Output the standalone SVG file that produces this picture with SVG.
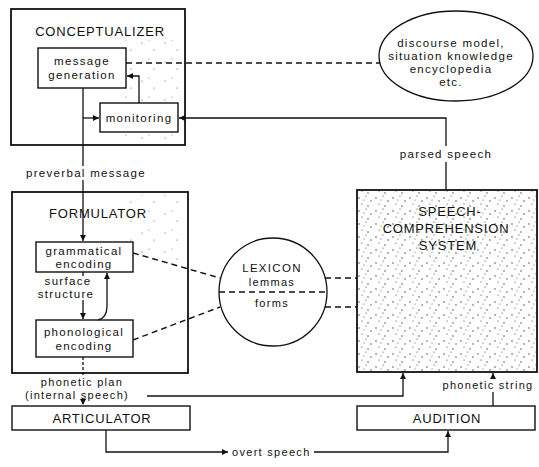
<svg xmlns="http://www.w3.org/2000/svg" width="539" height="467" viewBox="0 0 539 467">
<style>
text{font-family:"Liberation Sans",Arial,sans-serif;fill:#111;text-anchor:middle}
.lb{font-size:11.5px;letter-spacing:1.3px}
.sm{font-size:11px;letter-spacing:1.3px}
.tt{font-size:13px;letter-spacing:0.8px}
.big{fill:none;stroke:#111;stroke-width:1.8}
.box{fill:#fff;stroke:#111;stroke-width:1.4}
.ln{fill:none;stroke:#111;stroke-width:1.3}
.ds{fill:none;stroke:#111;stroke-width:1.4;stroke-dasharray:6 4}
.ar{marker-end:url(#ah)}
</style>
<defs>
<marker id="ah" viewBox="0 0 10 10" refX="10" refY="5" markerWidth="7" markerHeight="6" orient="auto" markerUnits="userSpaceOnUse"><path d="M0,0 L10,5 L0,10 z" fill="#111"/></marker>
<pattern id="dots" width="17" height="13" patternUnits="userSpaceOnUse">
<circle cx="2" cy="3" r="0.7" fill="#333"/><circle cx="9" cy="1" r="0.6" fill="#333"/><circle cx="14" cy="6" r="0.7" fill="#333"/><circle cx="5" cy="9" r="0.6" fill="#333"/><circle cx="11" cy="11" r="0.7" fill="#333"/><circle cx="7" cy="5" r="0.5" fill="#333"/>
</pattern>
<pattern id="sparse" width="23" height="19" patternUnits="userSpaceOnUse">
<circle cx="4" cy="5" r="0.6" fill="#555"/><circle cx="16" cy="12" r="0.6" fill="#555"/><circle cx="11" cy="2" r="0.5" fill="#555"/>
</pattern>
</defs>

<g id="conceptualizer">
<rect x="125" y="40" width="58" height="100" fill="url(#sparse)"/>
<rect x="11" y="9" width="174" height="136" class="big"/>
<text x="100" y="36" class="tt">CONCEPTUALIZER</text>
</g>
<g id="message-generation">
<rect x="38" y="48" width="88" height="40" class="box"/>
<text x="82" y="65" class="lb">message</text>
<text x="82" y="79" class="lb">generation</text>
</g>
<g id="monitoring">
<rect x="100" y="103" width="78" height="29" class="box"/>
<text x="139" y="122" class="lb">monitoring</text>
</g>
<g id="knowledge">
<ellipse cx="456" cy="56" rx="77" ry="45" class="ln"/>
<text x="451" y="47" class="lb">discourse model,</text>
<text x="451" y="60" class="lb">situation knowledge</text>
<text x="451" y="73" class="lb">encyclopedia</text>
<text x="451" y="86" class="lb">etc.</text>
</g>

<g id="formulator">
<rect x="130" y="195" width="56" height="70" fill="url(#sparse)"/>
<rect x="12" y="192" width="176" height="181" class="big"/>
<text x="98" y="218" class="tt">FORMULATOR</text>
</g>
<g id="grammatical-encoding">
<rect x="36" y="242" width="97" height="30" class="box"/>
<text x="84" y="255" class="lb">grammatical</text>
<text x="84" y="268" class="lb">encoding</text>
</g>
<g id="phonological-encoding">
<rect x="36" y="320" width="97" height="37" class="box"/>
<text x="84" y="336" class="lb">phonological</text>
<text x="84" y="350" class="lb">encoding</text>
</g>
<g id="lexicon">
<circle cx="273" cy="292" r="54" class="ln" fill="#fff"/>
<line x1="219" y1="292" x2="327" y2="292" class="ds"/>
<text x="272" y="272" class="lb" style="font-size:11.5px">LEXICON</text>
<text x="272" y="286" class="sm">lemmas</text>
<text x="272" y="307" class="sm">forms</text>
</g>
<g id="speech-comprehension">
<rect x="357" y="190" width="180" height="182" fill="url(#dots)" stroke="#111" stroke-width="1.8"/>
<text x="450" y="216" class="tt">SPEECH-</text>
<text x="446" y="233" class="tt">COMPREHENSION</text>
<text x="448" y="250" class="tt">SYSTEM</text>
</g>
<g id="articulator">
<rect x="12" y="406" width="178" height="24" class="box"/>
<text x="102" y="423" class="tt">ARTICULATOR</text>
</g>
<g id="audition">
<rect x="357" y="406" width="178" height="24" class="box"/>
<text x="447" y="423" class="tt">AUDITION</text>
</g>

<g id="connectors">
<path d="M126 63 H380" class="ds"/>
<path d="M139 103 V76 H127" class="ln ar"/>
<path d="M83 88 V166" class="ln"/>
<path d="M83 118 H99" class="ln ar"/>
<path d="M446 190 V162 M446 146 V118 H179" class="ln ar"/>
<path d="M83 180 V241" class="ln ar"/>
<path d="M83 272 V276 M83 300 V319" class="ln ar"/>
<path d="M98 320 Q107 318 107 306 V273" class="ln ar"/>
<path d="M133 253 L220 278" class="ds"/>
<path d="M133 340 L220 307" class="ds"/>
<path d="M325 278 H357" class="ds"/>
<path d="M325 307 H357" class="ds"/>
<path d="M83 357 V376 M83 401 V405" class="ln ar" stroke-dasharray="3 2"/>
<path d="M147 396 H403 V373" class="ln ar"/>
<path d="M493 406 V392 M493 378 V373" class="ln ar"/>
<path d="M106 430 V452 H228" class="ln ar"/>
<path d="M314 452 H448 V431" class="ln ar"/>
<text x="86" y="177" class="lb">preverbal message</text>
<text x="446" y="158" class="lb">parsed speech</text>
<text x="68" y="285" class="lb">surface</text>
<text x="66" y="298" class="lb">structure</text>
<text x="82" y="386" class="sm">phonetic plan</text>
<text x="77" y="399" class="sm">(internal speech)</text>
<text x="488" y="389" class="sm">phonetic string</text>
<text x="232" y="456" class="sm" style="text-anchor:start">overt speech</text>
</g>
</svg>
